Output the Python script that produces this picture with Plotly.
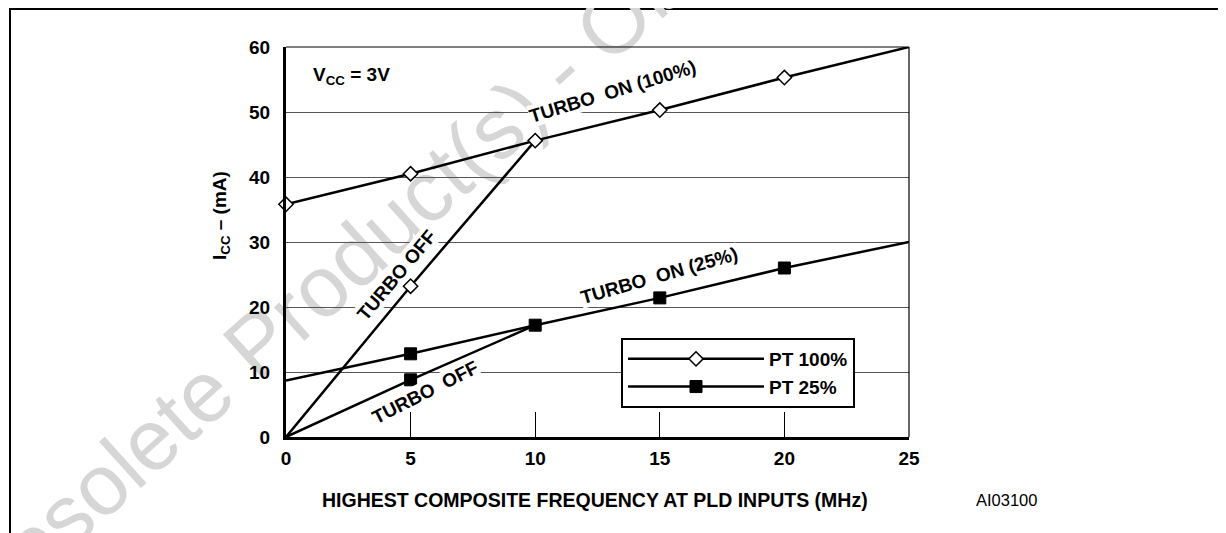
import plotly.graph_objects as go

# ---- data ----
freq = [0, 5, 10, 15, 20, 25]
pt100_on = [35.8, 40.5, 45.6, 50.3, 55.3, 60.0]
pt25_on = [8.7, 12.8, 17.2, 21.4, 26.0, 30.0]
freq_off = [0, 5, 10]
pt100_off = [0, 23.2, 45.6]
pt25_off = [0, 8.8, 17.2]
x_ticks = [0, 5, 10, 15, 20, 25]
y_ticks = [0, 10, 20, 30, 40, 50, 60]
legend_names = ["PT 100%", "PT 25%"]

FONT = "Arial, Liberation Sans, sans-serif"
OFF = 8  # page body margin
W, H = 1226 - OFF, 533 - OFF
L, T = 286 - OFF, 47 - OFF
PW, PH = 623, 390
R, B = W - L - PW, H - T - PH


def px_to_paper(sx, sy):
    return ((sx - OFF) - L) / PW, (T + PH - (sy - OFF)) / PH


fig = go.Figure()

line_style = dict(color="black", width=2.5)
diamond = dict(symbol="diamond", size=11, color="white", line=dict(color="black", width=1.5))
square = dict(symbol="square", size=12, color="black", line=dict(color="black", width=1))

# lines
for xs, ys in [(freq, pt100_on), (freq_off, pt100_off), (freq, pt25_on), (freq_off, pt25_off)]:
    fig.add_trace(go.Scatter(x=xs, y=ys, mode="lines", line=line_style,
                             showlegend=False, hoverinfo="skip", cliponaxis=False))
# markers
fig.add_trace(go.Scatter(x=freq[:5], y=pt100_on[:5], mode="markers", marker=diamond,
                         showlegend=False, cliponaxis=False))
fig.add_trace(go.Scatter(x=freq_off[1:2], y=pt100_off[1:2], mode="markers", marker=diamond,
                         showlegend=False, cliponaxis=False))
fig.add_trace(go.Scatter(x=freq[1:5], y=pt25_on[1:5], mode="markers", marker=square,
                         showlegend=False, cliponaxis=False))
fig.add_trace(go.Scatter(x=freq_off[1:2], y=pt25_off[1:2], mode="markers", marker=square,
                         showlegend=False, cliponaxis=False))
# legend entries
fig.add_trace(go.Scatter(x=[None], y=[None], mode="lines+markers", name=legend_names[0],
                         line=line_style, marker=diamond))
fig.add_trace(go.Scatter(x=[None], y=[None], mode="lines+markers", name=legend_names[1],
                         line=line_style, marker=square))

fig.update_xaxes(range=[0, 25], tickvals=x_ticks, ticks="inside", ticklen=25, tickwidth=1,
                 tickcolor="black", showgrid=False, zeroline=False, showline=True,
                 linecolor="black", linewidth=3, ticklabelstandoff=2,
                 tickfont=dict(family=FONT, size=19, color="black", weight="bold"))
fig.update_yaxes(range=[0, 60], tickvals=y_ticks, ticks="", showgrid=True,
                 gridcolor="#555555", gridwidth=1, zeroline=False, showline=True,
                 linecolor="black", linewidth=3, ticklabelstandoff=9,
                 tickfont=dict(family=FONT, size=19, color="black", weight="bold"))

shapes = []
# outer frame of the figure box
fx0, fy1 = px_to_paper(10, 9)
fx1, fy0 = px_to_paper(1260, 570)
shapes.append(dict(type="rect", xref="paper", yref="paper", x0=fx0, x1=fx1, y0=fy0, y1=fy1,
                   line=dict(color="black", width=2), layer="below"))
# thin top and right borders of plot
shapes.append(dict(type="line", xref="paper", yref="paper", x0=0, x1=1, y0=1, y1=1,
                   line=dict(color="black", width=1.2)))
shapes.append(dict(type="line", xref="paper", yref="paper", x0=1, x1=1, y0=0, y1=1,
                   line=dict(color="black", width=1.2)))
# watermark
cx, cy = px_to_paper(555, 64)
shapes.append(dict(type="line", xref="paper", yref="paper", x0=cx - 0.05, x1=cx + 0.05,
                   y0=cy - 0.05, y1=cy + 0.05, line=dict(color="rgba(0,0,0,0)", width=1),
                   layer="below",
                   label=dict(text="Obsolete Product(s) - Obsolete Product(s)",
                              font=dict(family=FONT, size=86, color="#d6d6d6"),
                              textangle=-42, textposition="middle",
                              xanchor="center", yanchor="middle", padding=0)))
fig.update_layout(shapes=shapes)

bold = dict(family=FONT, size=19, color="black", weight="bold")
ann = []
ann.append(dict(x=1.0, y=55.5, xref="x", yref="y", text="V<sub>CC</sub> = 3V", showarrow=False,
                xanchor="left", yanchor="middle", font=bold))
ann.append(dict(x=13.1, y=53.2, xref="x", yref="y", text="TURBO  ON (100%)", showarrow=False,
                textangle=-17, font=bold, bgcolor="white", borderpad=0))
ann.append(dict(x=4.42, y=24.9, xref="x", yref="y", text="TURBO OFF", showarrow=False,
                textangle=-50, font=bold, bgcolor="white", borderpad=0))
ann.append(dict(x=5.56, y=6.9, xref="x", yref="y", text="TURBO  OFF", showarrow=False,
                textangle=-27, font=bold, bgcolor="white", borderpad=0))
ann.append(dict(x=15.0, y=24.8, xref="x", yref="y", text="TURBO  ON (25%)", showarrow=False,
                textangle=-16, font=bold, bgcolor="white", borderpad=0))
ax, ay = px_to_paper(221, 216)
ann.append(dict(x=ax, y=ay, xref="paper", yref="paper", text="I<sub>CC</sub> – (mA)",
                showarrow=False, textangle=-90, xanchor="center", yanchor="middle",
                font=dict(family=FONT, size=19, color="black", weight="bold")))
tx, ty = px_to_paper(595, 500)
ann.append(dict(x=tx, y=ty, xref="paper", yref="paper",
                text="HIGHEST COMPOSITE FREQUENCY AT PLD INPUTS (MHz)",
                showarrow=False, xanchor="center", yanchor="middle",
                font=dict(family=FONT, size=19.5, color="black", weight="bold")))
aix, aiy = px_to_paper(1006, 500)
ann.append(dict(x=aix, y=aiy, xref="paper", yref="paper", text="AI03100", showarrow=False,
                xanchor="center", yanchor="middle",
                font=dict(family=FONT, size=16.5, color="black")))
fig.update_layout(annotations=ann)

lx, ly = px_to_paper(621, 338)
fig.update_layout(
    width=W, height=H, autosize=False,
    margin=dict(l=L, r=R, t=T, b=B, pad=0),
    paper_bgcolor="white", plot_bgcolor="rgba(0,0,0,0)",
    showlegend=True,
    legend=dict(x=lx, y=ly, xanchor="left", yanchor="top", bgcolor="white",
                bordercolor="black", borderwidth=2, itemwidth=136, tracegroupgap=0,
                font=dict(family=FONT, size=19, color="black", weight="bold"),
                itemclick=False, itemdoubleclick=False),
)

fig.write_html("out.html")
